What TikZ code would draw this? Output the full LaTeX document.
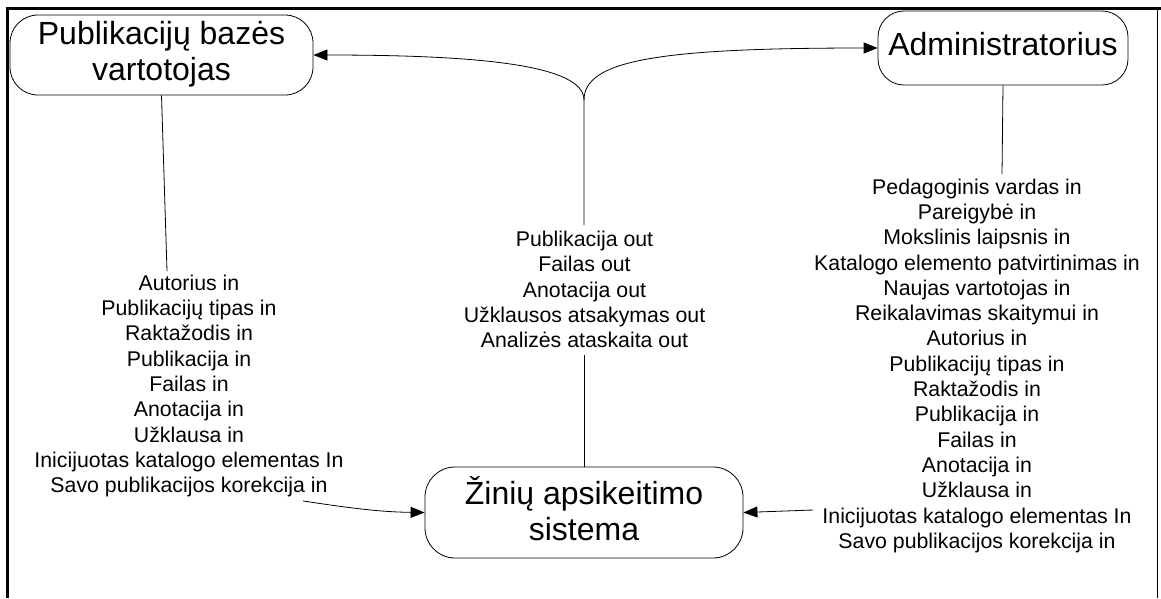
\documentclass[tikz,border=0pt]{standalone}
\usepackage{fontspec}
\setmainfont{Liberation Sans}
\usetikzlibrary{arrows.meta}
% strut that keeps the two-line actor boxes evenly centred
\newcommand\bstrut{\rule[-8pt]{0pt}{25pt}}
\begin{document}
\begin{tikzpicture}[x=1pt,y=-1pt,
  every node/.style={inner sep=0pt},
  actor/.style={draw, line width=0.8pt, align=center,
    font=\fontsize{32}{36}\selectfont},
  flowlabel/.style={align=center, anchor=north,
    font=\fontsize{21.3}{25.3}\selectfont},
  link/.style={line width=0.8pt},
  arr/.style={link, -{Triangle[length=14pt,width=11pt]}},
  heavyedge/.style={line width=3pt},
  thinedge/.style={line width=1pt}]
\useasboundingbox (0,0) rectangle (1161,598);

% frame
\draw[heavyedge] (7.5,598) -- (7.5,8.5) -- (1161,8.5);
\draw[thinedge] (1157.5,8.5) -- (1157.5,598);

% actors
\node[actor, rounded corners=28pt, minimum width=303pt, minimum height=80pt] (pub)
  at (161.5,55) {\bstrut Publikacijų bazės\\\bstrut vartotojas};
\node[actor, rounded corners=26pt, minimum width=250pt, minimum height=74pt] (adm)
  at (1003,48) {\bstrut Administratorius};
\node[actor, rounded corners=30pt, minimum width=318pt, minimum height=91pt] (zin)
  at (584,512.5) {\bstrut Žinių apsikeitimo\\\bstrut sistema};

% data flow labels
\node[flowlabel] (inl) at (189,274.75) {Autorius in\\Publikacijų tipas in\\Raktažodis in\\Publikacija in\\Failas in\\Anotacija in\\Užklausa in\\Inicijuotas katalogo elementas In\\Savo publikacijos korekcija in};
\node[flowlabel] (outl) at (584.5,231) {Publikacija out\\Failas out\\Anotacija out\\Užklausos atsakymas out\\Analizės ataskaita out};
\node[flowlabel] (adml) at (977,178.5) {Pedagoginis vardas in\\Pareigybė in\\Mokslinis laipsnis in\\Katalogo elemento patvirtinimas in\\Naujas vartotojas in\\Reikalavimas skaitymui in\\Autorius in\\Publikacijų tipas in\\Raktažodis in\\Publikacija in\\Failas in\\Anotacija in\\Užklausa in\\Inicijuotas katalogo elementas In\\Savo publikacijos korekcija in};

% connector ends beside the labels
\coordinate (inTop) at (167,271);
\coordinate (inEnd) at (303,501);
\coordinate (outTop) at (584,225);
\coordinate (outBot) at (584,355);
\coordinate (fork) at (584,100);
\coordinate (admTop) at (1002,174);
\coordinate (admEnd) at (813,510);

% user -> system
\draw[link] (pub.south) -- (inTop);
\draw[arr] (inEnd) .. controls (350,508) and (380,512) .. (zin.west);

% system -> user and administrator
\draw[link] (zin.north) -- (outBot);
\draw[arr] (outTop) -- (fork) .. controls (584,65) and (480,55) .. (pub.east);
\draw[arr] (fork) .. controls (584,60) and (660,48) .. (adm.west);

% administrator -> system
\draw[link] (adm.south) -- (admTop);
\draw[arr] (admEnd) -- (zin.east);
\end{tikzpicture}
\end{document}
